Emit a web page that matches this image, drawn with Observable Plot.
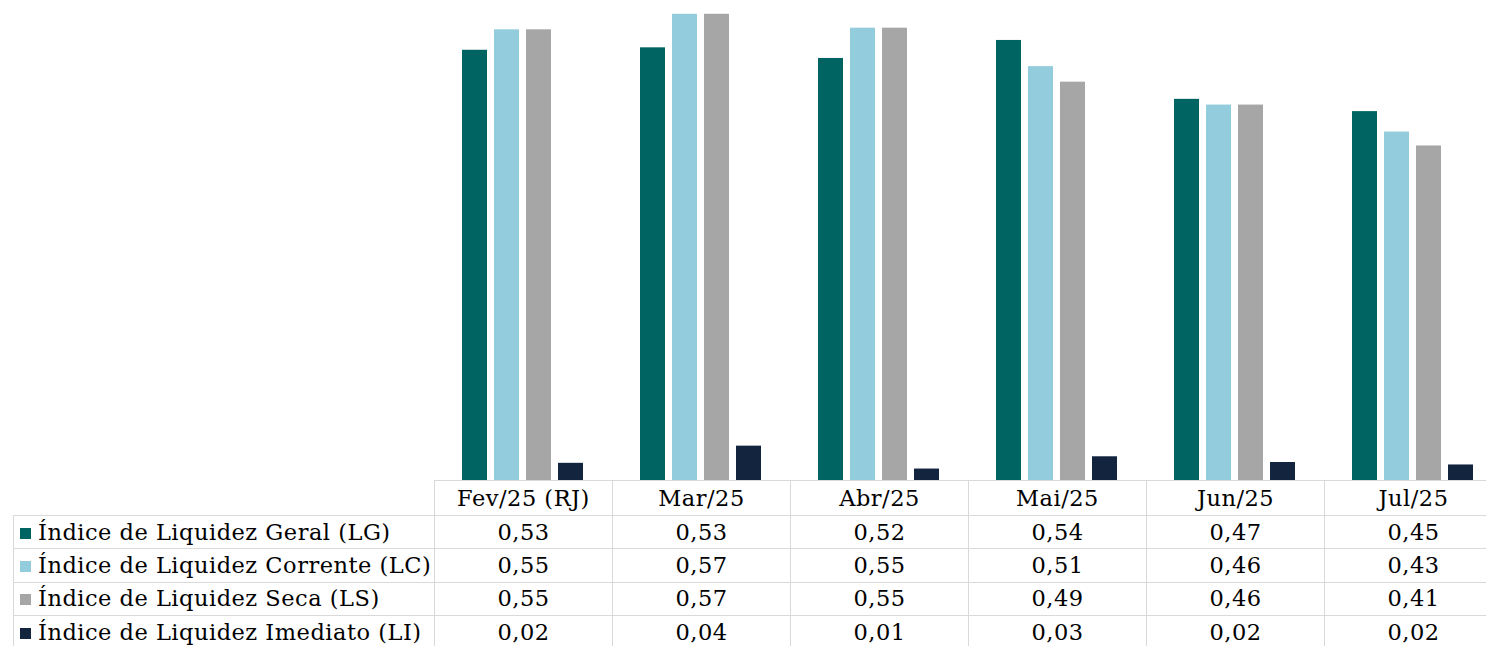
<!DOCTYPE html>
<html><head><meta charset="utf-8">
<script src="https://cdn.jsdelivr.net/npm/d3@7"></script>
<script src="https://cdn.jsdelivr.net/npm/@observablehq/plot@0.6"></script>
<style>
html,body{margin:0;padding:0;background:#fff;overflow:hidden;}
#wrap{position:relative;width:1502px;height:646px;}
#chart{position:absolute;left:0;top:0;}
table{position:absolute;left:13px;top:480px;width:1489px;border-collapse:collapse;table-layout:fixed;font-family:"DejaVu Serif";font-size:22.5px;letter-spacing:0.5px;color:#000;}
td{border:1.5px solid #d9d9d9;padding:0;text-align:center;white-space:nowrap;line-height:1;}
tr.head td{height:34px;}
tr.row td{height:32.3px;}
td.lab{text-align:left;}
td.blank{border:none;}
.sw{display:inline-block;width:11px;height:11px;margin:0 7px 0 6px;vertical-align:1px;}
</style></head>
<body><div id="wrap"><div id="chart"></div></div>
<script>
const months = ["Fev/25 (RJ)", "Mar/25", "Abr/25", "Mai/25", "Jun/25", "Jul/25"];
const seriesKeys = ["LG", "LC", "LS", "LI"];
const seriesNames = ["Índice de Liquidez Geral (LG)", "Índice de Liquidez Corrente (LC)", "Índice de Liquidez Seca (LS)", "Índice de Liquidez Imediato (LI)"];
const seriesColors = ["#006462", "#93CDDD", "#A6A6A6", "#13243F"];
const lg = [0.526, 0.529, 0.516, 0.538, 0.466, 0.451];
const lc = [0.551, 0.570, 0.553, 0.506, 0.459, 0.426];
const ls = [0.551, 0.570, 0.553, 0.487, 0.459, 0.409];
const li = [0.021, 0.042, 0.014, 0.029, 0.022, 0.019];

const seriesValues = [lg, lc, ls, li];
const data = [];
seriesKeys.forEach((k, i) => months.forEach((m, j) => data.push({month: m, key: k, value: seriesValues[i][j]})));

const chart = Plot.plot({
  width: 1502, height: 481,
  marginLeft: 434, marginRight: 0, marginTop: 5.6, marginBottom: 1,
  fx: {domain: months, padding: 0, axis: null},
  x: {domain: seriesKeys, paddingInner: 0.21, paddingOuter: 0.845, axis: null},
  y: {domain: [0, 0.58], axis: null},
  color: {domain: seriesKeys, range: seriesColors},
  marks: [
    Plot.barY(data, {fx: "month", x: "key", y: "value", fill: "key"})
  ]
});
document.getElementById("chart").appendChild(chart);

const fmt = v => v.toFixed(2).replace(".", ",");
const table = document.createElement("table");
const cg = document.createElement("colgroup");
[421, 178, 178, 178, 178, 178, 178].forEach(w => { const c = document.createElement("col"); c.style.width = w + "px"; cg.appendChild(c); });
table.appendChild(cg);
const hr = table.insertRow(); hr.className = "head";
const blank = hr.insertCell(); blank.className = "blank";
months.forEach(m => { const c = hr.insertCell(); c.textContent = m; });
seriesKeys.forEach((k, i) => {
  const r = table.insertRow(); r.className = "row";
  const lab = r.insertCell(); lab.className = "lab";
  const sw = document.createElement("span"); sw.className = "sw"; sw.style.background = seriesColors[i];
  lab.appendChild(sw); lab.appendChild(document.createTextNode(seriesNames[i]));
  seriesValues[i].forEach(v => { const c = r.insertCell(); c.textContent = fmt(v); });
});
document.getElementById("wrap").appendChild(table);
</script></body></html>
